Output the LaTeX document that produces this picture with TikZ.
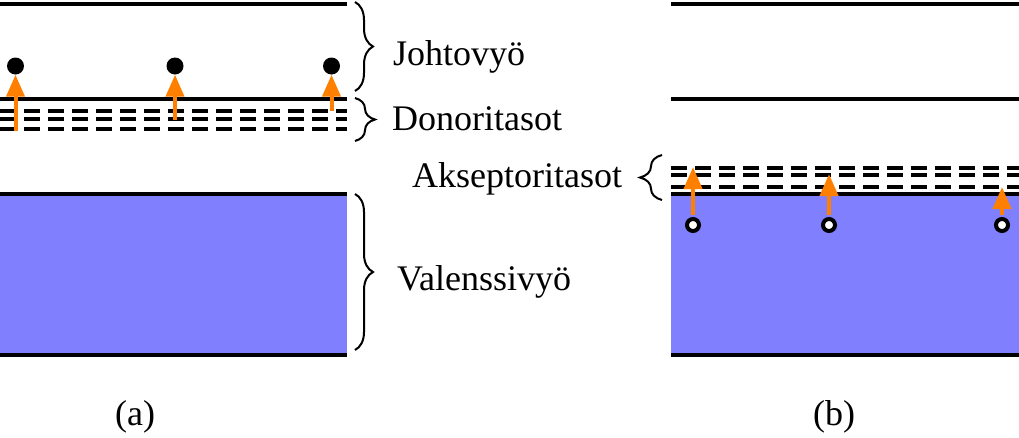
\documentclass[tikz,border=0pt]{standalone}
\usepackage{fontspec}
\setmainfont{Liberation Serif}
\newfontfamily\timesfont{Liberation Serif}
\usetikzlibrary{arrows.meta,decorations.pathreplacing}
\definecolor{bandblue}{HTML}{8080FF}
\definecolor{arrorange}{HTML}{FF8000}
\tikzset{
  level/.style={line width=4pt},
  implevel/.style={line width=4pt, dash pattern=on 16pt off 8pt},
  jump/.style={draw=arrorange, line width=4pt, -{Triangle[length=22pt,width=18pt]}},
  electron/.style={circle, fill=black, inner sep=0pt, minimum size=17pt},
  hole/.style={circle, draw=black, line width=4pt, fill=white, inner sep=0pt, minimum size=12pt},
  bracestyle/.style={decorate, decoration={brace, amplitude=#1}, line width=2pt},
  lbl/.style={font=\timesfont\fontsize{36}{40}\selectfont, anchor=base west, inner sep=0pt},
}
\begin{document}
\begin{tikzpicture}[x=1pt,y=-1pt]
\useasboundingbox (0,0) rectangle (1019,437);
% ---------- panel (a) ----------
\fill[bandblue] (0,194) rectangle (347,355);
\draw[level] (0,4) -- (347,4);
\draw[level] (0,99) -- (347,99);
\draw[level] (0,194) -- (347,194);
\draw[level] (0,355) -- (347,355);
\draw[implevel] (0,111) -- (347,111);
\draw[implevel] (0,119) -- (347,119);
\draw[implevel] (0,129) -- (347,129);
\node[electron] (e1) at (15.5,66) {};
\node[electron] (e2) at (175,66) {};
\node[electron] (e3) at (331.5,66) {};
\coordinate (sa1) at (15.5,131);
\coordinate (sa2) at (175,120);
\coordinate (sa3) at (331.5,111);
\draw[jump] (sa1) -- (e1);
\draw[jump] (sa2) -- (e2);
\draw[jump] (sa3) -- (e3);
% ---------- panel (b) ----------
\fill[bandblue] (671,194) rectangle (1019,355);
\draw[level] (671,4) -- (1019,4);
\draw[level] (671,99) -- (1019,99);
\draw[level] (671,194) -- (1019,194);
\draw[level] (671,355) -- (1019,355);
\draw[implevel] (671,168) -- (1019,168);
\draw[implevel] (671,175) -- (1019,175);
\draw[implevel] (671,187) -- (1019,187);
\node[hole] (h1) at (693,225) {};
\node[hole] (h2) at (829,225) {};
\node[hole] (h3) at (1002,225) {};
\coordinate (tb1) at (693,167);
\coordinate (tb2) at (829,174);
\coordinate (tb3) at (1002,187);
\draw[jump, shorten <=2pt] (h1) -- (tb1);
\draw[jump, shorten <=2pt] (h2) -- (tb2);
\draw[jump, shorten <=2pt] (h3) -- (tb3);
% ---------- braces and labels ----------
\draw[bracestyle=18pt] (355,2) -- (355,91);
\draw[bracestyle=20pt] (355,98) -- (355,141);
\draw[bracestyle=18pt] (355,194) -- (355,350);
\draw[bracestyle=22pt] (662,200) -- (662,155);
\node[lbl] (lj) at (393,65) {Johtovyö};
\node[lbl] (ld) at (392,130) {Donoritasot};
\node[lbl] (lak) at (412,187) {Akseptoritasot};
\node[lbl] (lv) at (397,290) {Valenssivyö};
\node[lbl] (la) at (115,425) {(a)};
\node[lbl] (lb) at (813,425) {(b)};
\end{tikzpicture}
\end{document}
